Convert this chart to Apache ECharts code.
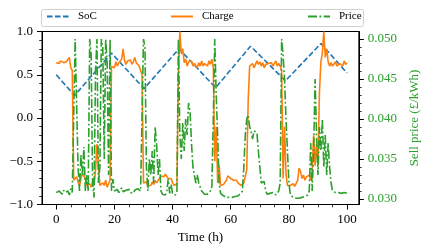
<!DOCTYPE html>
<html>
<head>
<meta charset="utf-8">
<script src="https://cdn.jsdelivr.net/npm/echarts@6/dist/echarts.min.js"></script>
<style>
html,body{margin:0;padding:0;background:#fff;}
#chart{width:429px;height:252px;}
</style>
</head>
<body>
<div id="chart"></div>
<script>
// ---- data ----
// time grid: 0 .. 100 h, every 0.5 h
var timeStep = 0.5;
// SoC turning points (piecewise linear)
var socTime  = [0, 6.3, 19.0, 30.2, 42.2, 54.8, 66.8, 78.8, 91.0, 100];
var socValue = [0.50, 0.26, 0.75, 0.34, 0.80, 0.35, 0.83, 0.43, 0.86, 0.52];

var charge = [
  0.64, 0.65, 0.63, 0.66, 0.67, 0.64, 0.62, 0.65, 0.66, 0.70,
  0.58, 0.55, -0.72, -0.70, -0.68, -0.74, -0.78, -0.70, -0.64, -0.62,
  -0.70, -0.78, -0.80, -0.76, -0.80, -0.74, -0.78, -0.60, -0.30, -0.55,
  -0.78, -0.80, -0.75, -0.78, -0.72, -0.80, -0.78, -0.72, 0.60, 0.62,
  0.58, 0.65, 0.60, 0.64, 0.62, 0.68, 0.80, 0.66, 0.62, 0.66,
  0.64, 0.67, 0.62, 0.65, 0.70, 0.64, 0.66, 0.60, 0.55, 0.50,
  -0.75, -0.77, -0.74, -0.78, -0.76, -0.78, -0.74, -0.77, -0.72, -0.75,
  -0.73, -0.70, -0.67, -0.66, -0.68, -0.65, -0.67, -0.70, -0.68, -0.70,
  -0.75, -0.78, -0.77, -0.76, 0.50, 1.00, 0.74, 0.80, 0.64, 0.68,
  0.60, 0.65, 0.63, 0.66, 0.60, 0.63, 0.62, 0.58, 0.64, 0.60,
  0.66, 0.60, 0.63, 0.65, 0.60, 0.66, 0.62, 0.68, 0.58, -0.50,
  -0.10, -0.75, -0.55, -0.78, -0.78, -0.77, -0.75, -0.72, -0.67, -0.68,
  -0.70, -0.68, -0.72, -0.73, -0.72, -0.75, -0.77, -0.78, -0.77, -0.75,
  -0.74, -0.60, 0.20, 0.60, 0.60, 0.63, 0.58, 0.62, 0.66, 0.62,
  0.65, 0.60, 0.64, 0.58, 0.62, 0.60, 0.63, 0.61, 0.64, 0.60,
  0.62, 0.66, 0.60, 0.63, 0.60, 0.55, -0.70, -0.10, -0.65, -0.78,
  -0.76, -0.78, -0.79, -0.76, -0.79, -0.77, -0.72, -0.58, -0.62, -0.70,
  -0.66, -0.72, -0.68, -0.70, -0.66, -0.72, -0.60, -0.20, -0.55, -0.30,
  -0.55, 0.30, 0.65, 0.75, 1.00, 0.70, 0.80, 0.65, 0.60, 0.64,
  0.60, 0.62, 0.65, 0.60, 0.60, 0.63, 0.65, 0.60, 0.66, 0.62,
  0.64
];

var price = [
  0.0308, 0.0307, 0.0310, 0.0309, 0.0306, 0.0311, 0.0308, 0.0307, 0.0310, 0.0305,
  0.0313, 0.0308, 0.0310, 0.0500, 0.0500, 0.0340, 0.0310, 0.0355, 0.0330, 0.0365,
  0.0310, 0.0330, 0.0310, 0.0500, 0.0480, 0.0320, 0.0302, 0.0460, 0.0500, 0.0320,
  0.0340, 0.0500, 0.0490, 0.0350, 0.0500, 0.0470, 0.0330, 0.0500, 0.0310, 0.0325,
  0.0310, 0.0309, 0.0312, 0.0308, 0.0310, 0.0314, 0.0309, 0.0307, 0.0311, 0.0309,
  0.0312, 0.0308, 0.0310, 0.0307, 0.0311, 0.0309, 0.0313, 0.0315, 0.0310, 0.0312,
  0.0500, 0.0490, 0.0340, 0.0310, 0.0350, 0.0330, 0.0360, 0.0320, 0.0390, 0.0370,
  0.0330, 0.0350, 0.0310, 0.0306, 0.0308, 0.0305, 0.0309, 0.0325, 0.0307, 0.0318,
  0.0306, 0.0308, 0.0305, 0.0310, 0.0500, 0.0380, 0.0350, 0.0395, 0.0360, 0.0400,
  0.0380, 0.0420, 0.0410, 0.0370, 0.0340, 0.0330, 0.0320, 0.0330, 0.0320, 0.0315,
  0.0310, 0.0308, 0.0306, 0.0307, 0.0306, 0.0308, 0.0310, 0.0315, 0.0400, 0.0500,
  0.0430, 0.0380, 0.0320, 0.0307, 0.0305, 0.0304, 0.0303, 0.0302, 0.0302, 0.0302,
  0.0302, 0.0302, 0.0302, 0.0303, 0.0303, 0.0304, 0.0305, 0.0307, 0.0310, 0.0340,
  0.0380, 0.0400, 0.0405, 0.0390, 0.0385, 0.0375, 0.0385, 0.0387, 0.0383, 0.0360,
  0.0340, 0.0320, 0.0318, 0.0322, 0.0310, 0.0306, 0.0305, 0.0307, 0.0305, 0.0308,
  0.0306, 0.0305, 0.0307, 0.0310, 0.0320, 0.0500, 0.0480, 0.0450, 0.0400, 0.0360,
  0.0320, 0.0305, 0.0303, 0.0302, 0.0302, 0.0301, 0.0301, 0.0301, 0.0302, 0.0302,
  0.0302, 0.0303, 0.0303, 0.0305, 0.0310, 0.0370, 0.0310, 0.0360, 0.0450, 0.0380,
  0.0330, 0.0390, 0.0360, 0.0400, 0.0340, 0.0380, 0.0330, 0.0370, 0.0340, 0.0320,
  0.0310, 0.0312, 0.0308, 0.0307, 0.0308, 0.0306, 0.0307, 0.0307, 0.0308, 0.0307,
  0.0307
];

var xMajorTicks = [0, 20, 40, 60, 80, 100];
var xMinorTicks = [5, 10, 15, 25, 30, 35, 45, 50, 55, 65, 70, 75, 85, 90, 95];
var priceMajorTicks = [0.030, 0.035, 0.040, 0.045, 0.050];
var priceMinorTicks = [0.031, 0.032, 0.033, 0.034, 0.036, 0.037, 0.038, 0.039,
                       0.041, 0.042, 0.043, 0.044, 0.046, 0.047, 0.048, 0.049];
var seriesNames = ['SoC', 'Charge', 'Price'];

// ---- build ----
var FONT = 'Liberation Serif';
var chargeData = charge.map(function (v, i) { return [i * timeStep, v]; });
var priceData = price.map(function (v, i) { return [i * timeStep, v]; });
var socData = socTime.map(function (t, i) { return [t, socValue[i]]; });

var X_MIN = -4.9, X_MAX = 104.05;
var P_MIN = 0.02931, P_MAX = 0.05094;

var chart = echarts.init(document.getElementById('chart'), null, {renderer: 'canvas'});
var labelStyle = {fontFamily: FONT, fontSize: 13, color: '#000'};

var option = {
  animation: false,
  backgroundColor: '#fff',
  grid: {left: 42, right: 65, top: 31.5, bottom: 47.5, show: true,
         borderColor: '#000', borderWidth: 1, backgroundColor: 'transparent'},
  graphic: [{
    type: 'rect', z: 0, silent: true,
    shape: {x: 41.5, y: 9.5, width: 322, height: 17, r: 2},
    style: {fill: 'rgba(255,255,255,0.8)', stroke: '#d0d0d0', lineWidth: 1}
  }],
  legend: [
    {data: [seriesNames[0]], left: 46, top: 11},
    {data: [seriesNames[1]], left: 170, top: 11},
    {data: [seriesNames[2]], left: 307, top: 11}
  ].map(function (l) {
    return Object.assign(l, {
      z: 5, padding: 0, itemWidth: 22, itemHeight: 12, orient: 'horizontal',
      itemStyle: {color: 'rgba(0,0,0,0)', borderWidth: 0, opacity: 0},
      textStyle: {fontFamily: FONT, fontSize: 11, color: '#000', padding: [0, 0, 0, 4]}
    });
  }),
  xAxis: [{
    type: 'value', min: X_MIN, max: X_MAX, position: 'bottom',
    axisLine: {show: true, onZero: false, lineStyle: {color: '#000', width: 1}},
    axisTick: {show: true, customValues: xMajorTicks, length: 5, lineStyle: {color: '#000', width: 1}},
    axisLabel: Object.assign({customValues: xMajorTicks, margin: 9,
      formatter: function (v) { return String(v); }}, labelStyle),
    splitLine: {show: false},
    name: 'Time (h)', nameLocation: 'middle', nameGap: 24,
    nameTextStyle: {fontFamily: FONT, fontSize: 13, color: '#000'}
  }, {
    type: 'value', min: X_MIN, max: X_MAX, position: 'bottom',
    axisLine: {show: false, onZero: false},
    axisTick: {show: true, customValues: xMinorTicks, length: 2.8, lineStyle: {color: '#000', width: 0.8}},
    axisLabel: {show: false}, splitLine: {show: false}
  }],
  yAxis: [{
    type: 'value', min: -1, max: 1, interval: 0.5, position: 'left',
    axisLine: {show: true, onZero: false, lineStyle: {color: '#000', width: 1}},
    axisTick: {show: true, length: 5, lineStyle: {color: '#000', width: 1}},
    minorTick: {show: true, splitNumber: 5, length: 2.8, lineStyle: {color: '#000', width: 0.8}},
    axisLabel: Object.assign({margin: 9, formatter: function (v) {
      return (v < 0 ? '\u2212' : '') + Math.abs(v).toFixed(1);
    }}, labelStyle),
    splitLine: {show: false}, minorSplitLine: {show: false}
  }, {
    type: 'value', min: P_MIN, max: P_MAX, position: 'right',
    axisLine: {show: true, onZero: false, lineStyle: {color: '#000', width: 1}},
    axisTick: {show: true, customValues: priceMajorTicks, length: 5, lineStyle: {color: '#000', width: 1}},
    axisLabel: {customValues: priceMajorTicks, margin: 9, fontFamily: FONT, fontSize: 13, color: '#2ca02c',
      formatter: function (v) { return v.toFixed(3); }},
    splitLine: {show: false},
    name: 'Sell price (\u00a3/kWh)', nameLocation: 'middle', nameRotate: 90, nameGap: 43,
    nameTextStyle: {fontFamily: FONT, fontSize: 13, color: '#2ca02c'}
  }, {
    type: 'value', min: P_MIN, max: P_MAX, position: 'right',
    axisLine: {show: false, onZero: false},
    axisTick: {show: true, customValues: priceMinorTicks, length: 2.8, lineStyle: {color: '#000', width: 0.8}},
    axisLabel: {show: false}, splitLine: {show: false}
  }],
  series: [{
    name: seriesNames[0], type: 'line', data: socData, xAxisIndex: 0, yAxisIndex: 0,
    symbol: 'none', showSymbol: false, color: '#1f77b4',
    lineStyle: {color: '#1f77b4', width: 1.6, type: [5.5, 2.5]}, z: 2
  }, {
    name: seriesNames[1], type: 'line', data: chargeData, xAxisIndex: 0, yAxisIndex: 0,
    symbol: 'none', showSymbol: false, color: '#ff7f0e',
    lineStyle: {color: '#ff7f0e', width: 1.6}, z: 3
  }, {
    name: seriesNames[2], type: 'line', data: priceData, xAxisIndex: 0, yAxisIndex: 1,
    symbol: 'none', showSymbol: false, color: '#2ca02c',
    lineStyle: {color: '#2ca02c', width: 1.6, type: [9, 2.5, 1.8, 2.5]}, z: 4
  }]
};
chart.setOption(option);
</script>
</body>
</html>
